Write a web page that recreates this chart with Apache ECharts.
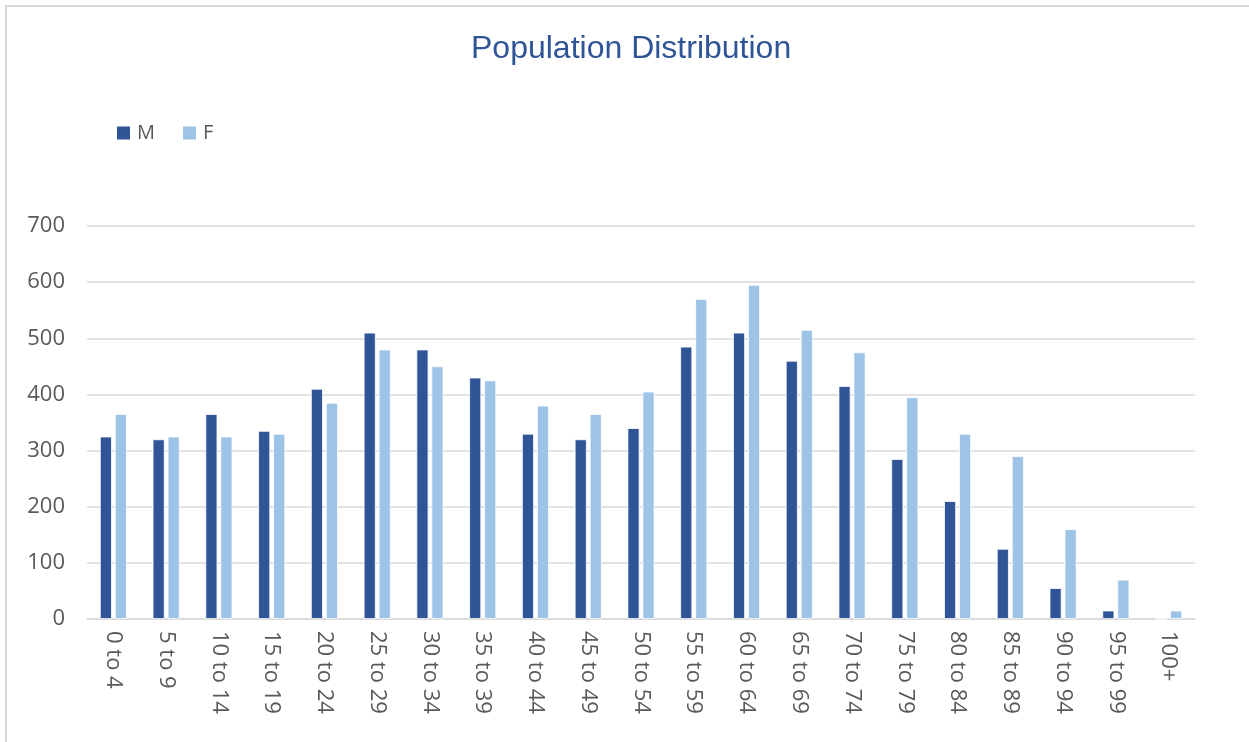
<!DOCTYPE html>
<html>
<head>
<meta charset="utf-8">
<title>Population Distribution</title>
<script src="https://cdn.jsdelivr.net/npm/echarts@6/dist/echarts.min.js"></script>
<style>
  html, body { margin: 0; padding: 0; background: #fff; }
  #frame {
    position: absolute; left: 5px; top: 5px; width: 1260px; height: 760px;
    border-left: 2px solid #D9D9D9; border-top: 2px solid #D9D9D9;
    box-sizing: border-box;
  }
  #chart { position: absolute; left: 0; top: 0; width: 1249px; height: 742px; }
</style>
</head>
<body>
<div id="frame"></div>
<div id="chart"></div>
<script>
// Age bands (five-year groups)
const ageGroups = ['0 to 4', '5 to 9', '10 to 14', '15 to 19', '20 to 24', '25 to 29', '30 to 34',
  '35 to 39', '40 to 44', '45 to 49', '50 to 54', '55 to 59', '60 to 64', '65 to 69', '70 to 74',
  '75 to 79', '80 to 84', '85 to 89', '90 to 94', '95 to 99', '100+'];

// Counts per band
const male = [325, 320, 365, 335, 410, 510, 480, 430, 330, 320, 340, 485, 510, 460, 415, 285, 210, 125, 55, 15, 0];
const female = [365, 325, 325, 330, 385, 480, 450, 425, 380, 365, 405, 570, 595, 515, 475, 395, 330, 290, 160, 70, 15];

// Value axis range
const yMin = 0, yMax = 700, yStep = 100;

const axisFont = '"Open Sans", "DejaVu Sans", sans-serif';
const chart = echarts.init(document.getElementById('chart'), null, { renderer: 'canvas' });

const barStyle = (color) => ({ color: color, borderColor: '#ffffff', borderWidth: 0.8 });

chart.setOption({
  animation: false,
  backgroundColor: 'transparent',
  title: {
    text: 'Population Distribution',
    left: 466,
    top: 28,
    textStyle: { fontFamily: '"Liberation Sans", Arial, sans-serif', fontSize: 32, fontWeight: 'normal', color: '#2F5597' }
  },
  legend: {
    left: 117,
    top: 123,
    padding: 0,
    itemWidth: 13,
    itemHeight: 13,
    itemGap: 28,
    icon: 'rect',
    itemStyle: { borderWidth: 0 },
    textStyle: { fontFamily: axisFont, fontSize: 20, color: '#595959', padding: [0, 0, 0, 2] },
    data: ['M', 'F']
  },
  grid: { left: 87, right: 54, top: 226, bottom: 123, containLabel: false },
  xAxis: {
    type: 'category',
    data: ageGroups,
    axisLine: { show: true, lineStyle: { color: '#D9D9D9', width: 1.5 } },
    axisTick: { show: false },
    axisLabel: {
      rotate: -90,
      margin: 12,
      interval: 0,
      fontFamily: axisFont,
      fontSize: 22,
      color: '#595959'
    }
  },
  yAxis: {
    type: 'value',
    min: yMin,
    max: yMax,
    interval: yStep,
    axisLine: { show: false },
    axisTick: { show: false },
    splitLine: { lineStyle: { color: '#D9D9D9', width: 1.5 } },
    axisLabel: { margin: 22, fontFamily: axisFont, fontSize: 22, color: '#595959' }
  },
  series: [
    {
      name: 'M', type: 'bar', data: male,
      barWidth: 12, barGap: '25%',
      itemStyle: barStyle('#2F5597')
    },
    {
      name: 'F', type: 'bar', data: female,
      barWidth: 12, barGap: '25%',
      itemStyle: barStyle('#9DC3E6')
    }
  ]
});
</script>
</body>
</html>
